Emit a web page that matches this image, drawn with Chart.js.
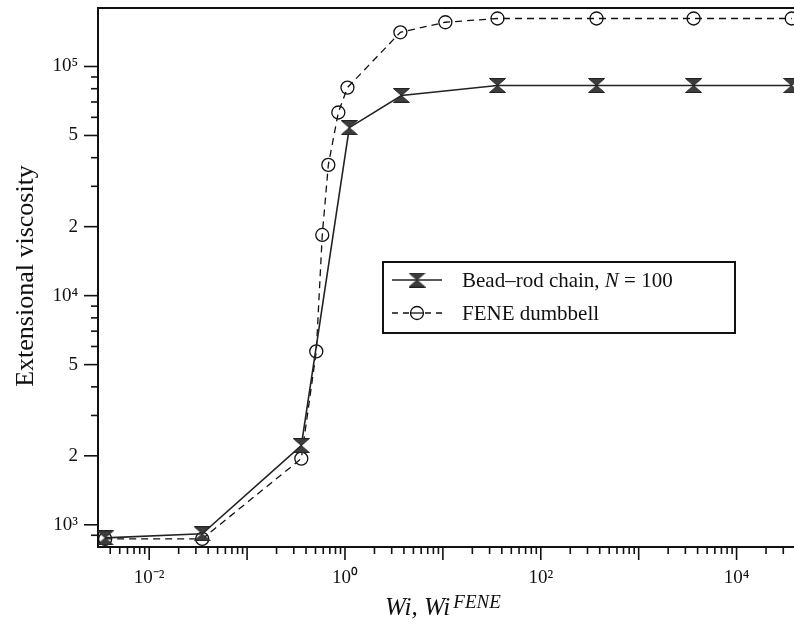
<!DOCTYPE html>
<html><head><meta charset="utf-8">
<script src="https://cdn.jsdelivr.net/npm/chart.js@4.4.1/dist/chart.umd.min.js"></script>
<style>
html,body{margin:0;padding:0;background:#fff;overflow:hidden;width:794px;height:620px}
#wrap{position:relative;width:808px;height:620px}
</style></head>
<body><div id="wrap"><canvas id="c" width="808" height="620"></canvas></div>
<script>
// ---- data ----
const beadRodWi  = [0.00355, 0.0348, 0.358, 1.107, 3.77, 36.1, 371, 3640, 36600];
const beadRodEta = [877, 914, 2218, 54100, 74700, 82600, 82600, 82600, 82600];
const feneWi  = [0.00355, 0.0348, 0.358, 0.509, 0.586, 0.676, 0.855, 1.06, 3.68, 10.6, 36.1, 371, 3640, 36600];
const feneEta = [868, 868, 1945, 5710, 18400, 37200, 63000, 80900, 141000, 156000, 162000, 162000, 162000, 162000];
const seriesNames = ['Bead\u2013rod chain, N = 100', 'FENE dumbbell'];
const xTickValues = [0.01, 1, 100, 10000];
const xTickLabels = ['10\u207B\u00B2', '10\u2070', '10\u00B2', '10\u2074'];
const yTickValues = [1000, 2000, 5000, 10000, 20000, 50000, 100000];
const yTickLabels = ['10\u00B3', '2', '5', '10\u2074', '2', '5', '10\u2075'];
const xRange = [0.003, 50000];
const yRange = [800, 180000];
const xTitle = ['Wi, Wi', 'FENE'];
const yTitle = 'Extensional viscosity';

const FONT = '"Liberation Serif", "Times New Roman", serif';

function decadeTicks(lo, hi) {
  const out = [];
  for (let n = Math.floor(Math.log10(lo)); n <= Math.ceil(Math.log10(hi)); n++) {
    for (let k = 1; k <= 9; k++) {
      const v = k * Math.pow(10, n);
      if (v >= lo * 1.0001 && v <= hi * 0.9999) out.push(v);
    }
  }
  return out;
}
const xMinorTicks = decadeTicks(xRange[0], xRange[1]);
const yMinorTicks = decadeTicks(yRange[0], yRange[1]);

function labelFor(values, labels, v) {
  const i = values.findIndex(t => Math.abs(t / v - 1) < 1e-6);
  return i >= 0 ? labels[i] : '';
}

function hourglass() {
  const c = document.createElement('canvas');
  c.width = 17; c.height = 15;
  const g = c.getContext('2d');
  g.fillStyle = '#3c3c3c';
  g.strokeStyle = '#222';
  g.lineWidth = 1;
  g.beginPath();
  g.moveTo(0.5, 0.5); g.lineTo(16.5, 0.5); g.lineTo(8.5, 7.5); g.closePath();
  g.moveTo(0.5, 14.5); g.lineTo(16.5, 14.5); g.lineTo(8.5, 7.5); g.closePath();
  g.fill(); g.stroke();
  return c;
}
const hgImg = hourglass();

function zeroPad(s) { s.paddingTop = 0; s.paddingBottom = 0; s.paddingLeft = 0; s.paddingRight = 0; }

const deco = {
  id: 'deco',
  beforeDatasetsDraw(chart) {
    const { ctx, chartArea: a } = chart;
    const xs = chart.scales.x, ys = chart.scales.y;
    ctx.save();
    ctx.strokeStyle = '#111';
    ctx.lineWidth = 2;
    ctx.strokeRect(a.left, a.top, a.right - a.left, a.bottom - a.top);
    ctx.lineWidth = 1.6;
    xs.ticks.forEach(t => {
      const p = xs.getPixelForValue(t.value);
      const lg = Math.log10(t.value);
      const major = Math.abs(lg - Math.round(lg)) < 1e-9;
      ctx.beginPath(); ctx.moveTo(p, a.bottom); ctx.lineTo(p, a.bottom + (major ? 13 : 7)); ctx.stroke();
    });
    ys.ticks.forEach(t => {
      const p = ys.getPixelForValue(t.value);
      const major = labelFor(yTickValues, yTickLabels, t.value) !== '';
      ctx.beginPath(); ctx.moveTo(a.left, p); ctx.lineTo(a.left - (major ? 14 : 7), p); ctx.stroke();
    });
    ctx.restore();
  },
  afterDraw(chart) {
    const { ctx } = chart;
    ctx.save();
    ctx.fillStyle = '#111';
    // y title
    ctx.save();
    ctx.translate(33, 276);
    ctx.rotate(-Math.PI / 2);
    ctx.font = '26px ' + FONT;
    ctx.textAlign = 'center';
    ctx.textBaseline = 'alphabetic';
    ctx.fillText(yTitle, 0, 0);
    ctx.restore();
    // x title
    ctx.textAlign = 'left';
    ctx.textBaseline = 'alphabetic';
    ctx.font = 'italic 25px ' + FONT;
    const x0 = 385;
    ctx.fillText(xTitle[0], x0, 615);
    const w = ctx.measureText(xTitle[0]).width;
    ctx.font = 'italic 19px ' + FONT;
    ctx.fillText(xTitle[1], x0 + w + 3, 608);
    // legend
    const bx = 383, by = 262, bw = 352, bh = 71;
    ctx.lineWidth = 2;
    ctx.strokeStyle = '#111';
    ctx.strokeRect(bx, by, bw, bh);
    const rows = [280, 313];
    const ds = chart.data.datasets;
    // row 1
    ctx.lineWidth = ds[0].borderWidth;
    ctx.strokeStyle = ds[0].borderColor;
    ctx.setLineDash([]);
    ctx.beginPath(); ctx.moveTo(392, rows[0]); ctx.lineTo(442, rows[0]); ctx.stroke();
    ctx.drawImage(hgImg, 417 - hgImg.width / 2, rows[0] - hgImg.height / 2);
    // row 2
    ctx.lineWidth = ds[1].borderWidth;
    ctx.strokeStyle = ds[1].borderColor;
    ctx.setLineDash([6, 5]);
    ctx.beginPath(); ctx.moveTo(392, rows[1]); ctx.lineTo(442, rows[1]); ctx.stroke();
    ctx.setLineDash([]);
    ctx.beginPath(); ctx.arc(417, rows[1], 6.5, 0, Math.PI * 2); ctx.fillStyle = '#fff'; ctx.fill();
    ctx.beginPath(); ctx.moveTo(410, rows[1]); ctx.lineTo(424, rows[1]); ctx.stroke();
    ctx.beginPath(); ctx.arc(417, rows[1], 6.5, 0, Math.PI * 2); ctx.stroke();
    // texts
    ctx.fillStyle = '#111';
    ctx.textBaseline = 'middle';
    const tx = 462;
    const parts = [['Bead\u2013rod chain, ', ''], ['N', 'italic '], [' = 100', '']];
    let cx = tx;
    parts.forEach(([s, st]) => {
      ctx.font = st + '21px ' + FONT;
      ctx.fillText(s, cx, rows[0] + 1);
      cx += ctx.measureText(s).width;
    });
    ctx.font = '21px ' + FONT;
    ctx.fillText(seriesNames[1], tx, rows[1] + 1);
    ctx.restore();
  }
};

const toPts = (xs, ys) => xs.map((x, i) => ({ x, y: ys[i] }));

new Chart(document.getElementById('c'), {
  type: 'line',
  data: {
    datasets: [
      {
        label: seriesNames[0],
        data: toPts(beadRodWi, beadRodEta),
        borderColor: '#222',
        borderWidth: 1.6,
        pointStyle: hgImg,
        pointRadius: 8,
        tension: 0,
        fill: false
      },
      {
        label: seriesNames[1],
        data: toPts(feneWi, feneEta),
        borderColor: '#111',
        borderWidth: 1.3,
        borderDash: [7, 5],
        pointStyle: 'circle',
        pointRadius: 6.5,
        pointBorderWidth: 1.3,
        pointBorderColor: '#111',
        pointBackgroundColor: 'rgba(0,0,0,0)',
        tension: 0,
        fill: false
      }
    ]
  },
  options: {
    responsive: false,
    animation: false,
    events: [],
    layout: { autoPadding: false, padding: { top: 8, right: 3, left: 0, bottom: 0 } },
    plugins: { legend: { display: false }, tooltip: { enabled: false }, title: { display: false } },
    scales: {
      x: {
        type: 'logarithmic',
        position: 'bottom',
        min: xRange[0], max: xRange[1],
        grid: { display: false, drawTicks: false },
        border: { display: false },
        afterBuildTicks: s => { s.ticks = xMinorTicks.map(v => ({ value: v })); },
        afterFit: s => { s.height = 73; zeroPad(s); },
        ticks: {
          autoSkip: false, maxRotation: 0, minRotation: 0, padding: 20,
          color: '#111', font: { family: FONT, size: 19 },
          callback: v => labelFor(xTickValues, xTickLabels, v)
        }
      },
      y: {
        type: 'logarithmic',
        position: 'left',
        min: yRange[0], max: yRange[1],
        grid: { display: false, drawTicks: false },
        border: { display: false },
        afterBuildTicks: s => { s.ticks = yMinorTicks.map(v => ({ value: v })); },
        afterFit: s => { s.width = 98; zeroPad(s); },
        ticks: {
          autoSkip: false, padding: 20,
          color: '#111', font: { family: FONT, size: 19 },
          callback: v => labelFor(yTickValues, yTickLabels, v)
        }
      }
    }
  },
  plugins: [deco]
});
</script>
</body></html>
